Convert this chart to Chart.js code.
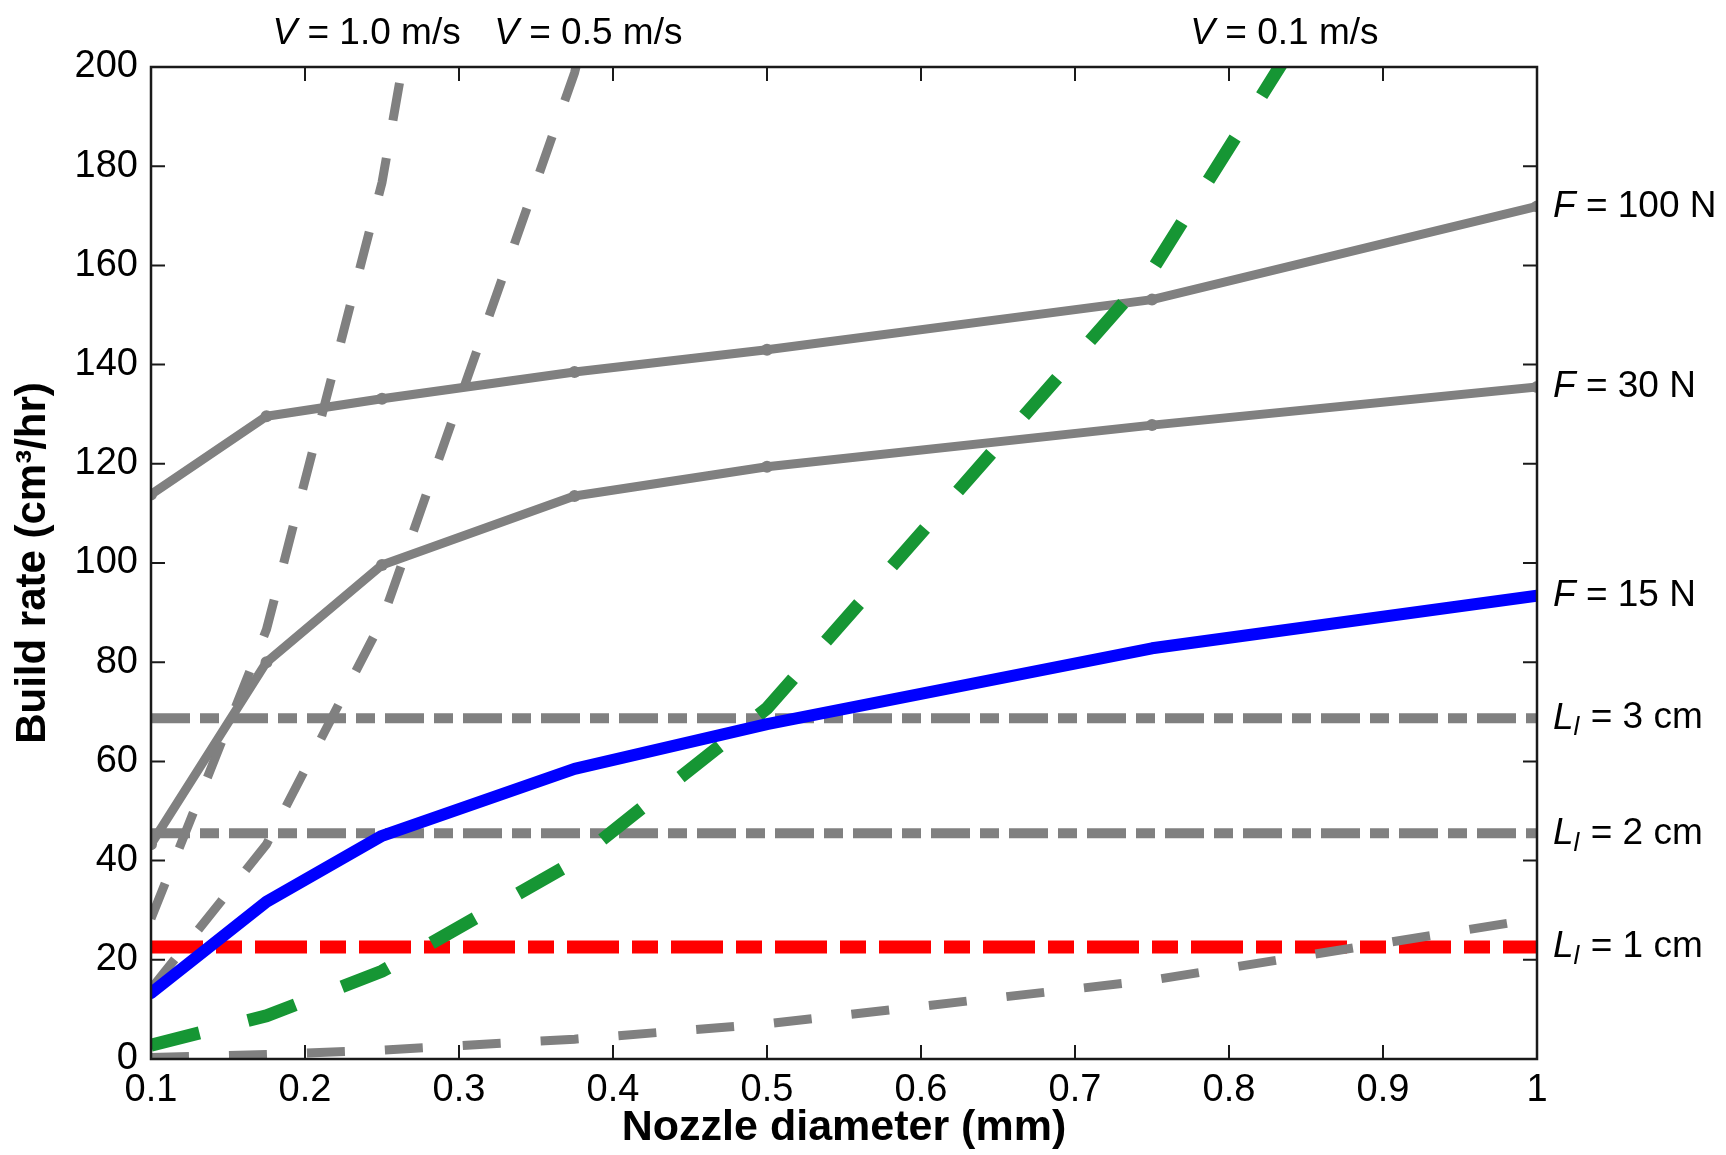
<!DOCTYPE html>
<html>
<head>
<meta charset="utf-8">
<script src="https://cdn.jsdelivr.net/npm/chart.js@4.4.1/dist/chart.umd.min.js"></script>
<style>
  html, body { margin: 0; padding: 0; background: #fff; }
  #wrap { width: 1726px; height: 1155px; position: relative; }
</style>
</head>
<body>
<div id="wrap"><canvas id="rateChart"></canvas></div>
<script>
// nozzle diameters (mm) where the curves were evaluated
const diameters = [0.1, 0.175, 0.25, 0.375, 0.5, 0.75, 1.0];

// build rate (cm3/hr) limited by extrusion force
const force100 = [113.8, 129.6, 133.1, 138.5, 143.0, 153.1, 171.9];
const force30 = [43.3, 80.0, 99.6, 113.5, 119.4, 127.8, 135.5];
const force15 = [13.3, 31.7, 45.0, 58.5, 67.5, 82.8, 93.4];

// build rate limited by print speed (values above 200 run off the plot)
const speed10 = [28.3, 86.6, 176.7, 397.6, null, null, null];
const speed05 = [14.1, 43.3, 88.4, 198.8, 353.4, null, null];
const speed01 = [2.8, 8.7, 17.7, 39.8, 70.7, 159.0, 282.7];
const speed001 = [0.3, 0.9, 1.8, 4.0, 7.1, 15.9, 28.3];

// build rate limited by layer length
const lengthRate3 = 68.7;
const lengthRate2 = 45.5;
const lengthRate1 = 22.6;

const xTicks = [0.1, 0.2, 0.3, 0.4, 0.5, 0.6, 0.7, 0.8, 0.9, 1];
const yTicks = [0, 20, 40, 60, 80, 100, 120, 140, 160, 180, 200];

const GRAY = 'rgb(128,128,128)';
const GREEN = 'rgb(22,150,52)';
const FONT = "'Liberation Sans', Arial, Helvetica, sans-serif";

function pts(values) {
  return diameters.map((d, i) => ({ x: d, y: values[i] })).filter(p => p.y !== null);
}
function flat(v) {
  return [{ x: xTicks[0], y: v }, { x: xTicks[xTicks.length - 1], y: v }];
}

function solid(data, color, width, radius) {
  return {
    data: pts(data), borderColor: color, backgroundColor: color,
    borderWidth: width, pointRadius: radius, pointBorderWidth: 0,
    borderCapStyle: 'round', borderJoinStyle: 'round', tension: 0
  };
}
function dashed(data, color, width, dash, clip) {
  return {
    data: data, borderColor: color, borderWidth: width, borderDash: dash,
    borderCapStyle: 'butt', pointRadius: 0, tension: 0, clip: clip
  };
}

// right hand and top labels; F and L labels sit at their curve's height
const rightLabels = [
  { y: force100[force100.length - 1], parts: [['F', 'i'], [' = 100 N']] },
  { y: force30[force30.length - 1], parts: [['F', 'i'], [' = 30 N']] },
  { y: force15[force15.length - 1], parts: [['F', 'i'], [' = 15 N']] },
  { y: lengthRate3, parts: [['L', 'i'], ['l', 'sub'], [' = 3 cm']] },
  { y: lengthRate2, parts: [['L', 'i'], ['l', 'sub'], [' = 2 cm']] },
  { y: lengthRate1, parts: [['L', 'i'], ['l', 'sub'], [' = 1 cm']] }
];
const topLabels = [
  { x: 0.24, parts: [['V', 'i'], [' = 1.0 m/s']] },
  { x: 0.384, parts: [['V', 'i'], [' = 0.5 m/s']] },
  { x: 0.836, parts: [['V', 'i'], [' = 0.1 m/s']] }
];

function partFont(kind) {
  if (kind === 'i') return 'italic 37px ' + FONT;
  if (kind === 'sub') return 'italic 26px ' + FONT;
  return '37px ' + FONT;
}
function richWidth(ctx, parts) {
  let w = 0;
  parts.forEach(p => { ctx.font = partFont(p[1]); w += ctx.measureText(p[0]).width; });
  return w;
}
function drawRich(ctx, parts, x, y) {
  parts.forEach(p => {
    ctx.font = partFont(p[1]);
    ctx.fillText(p[0], x, p[1] === 'sub' ? y + 10 : y);
    x += ctx.measureText(p[0]).width + (p[1] === 'sub' ? 1 : 0);
  });
}

const frame = {
  id: 'frame',
  afterDatasetsDraw(chart) {
    const { ctx, chartArea: a, scales: { x, y } } = chart;
    ctx.save();
    ctx.strokeStyle = '#1a1a1a';
    ctx.lineWidth = 2.5;
    ctx.strokeRect(a.left, a.top, a.right - a.left, a.bottom - a.top);
    ctx.lineWidth = 2;
    ctx.beginPath();
    xTicks.forEach(v => {
      const px = x.getPixelForValue(v);
      ctx.moveTo(px, a.bottom); ctx.lineTo(px, a.bottom - 14);
      ctx.moveTo(px, a.top); ctx.lineTo(px, a.top + 14);
    });
    yTicks.forEach(v => {
      const py = y.getPixelForValue(v);
      ctx.moveTo(a.left, py); ctx.lineTo(a.left + 14, py);
      ctx.moveTo(a.right, py); ctx.lineTo(a.right - 14, py);
    });
    ctx.stroke();

    ctx.fillStyle = '#000';
    ctx.textBaseline = 'middle';
    ctx.textAlign = 'left';
    rightLabels.forEach(l => drawRich(ctx, l.parts, a.right + 16, y.getPixelForValue(l.y)));
    topLabels.forEach(l => {
      const w = richWidth(ctx, l.parts);
      drawRich(ctx, l.parts, x.getPixelForValue(l.x) - w / 2, a.top - 33);
    });
    ctx.restore();
  }
};

const ctx = document.getElementById('rateChart').getContext('2d');
Chart.defaults.font.family = FONT;
Chart.defaults.color = '#000';

new Chart(ctx, {
  type: 'line',
  data: {
    datasets: [
      solid(force15, 'rgb(0,0,255)', 12, 0),
      dashed(pts(speed01), GREEN, 13, [50, 50], 0),
      solid(force100, GRAY, 9, 6),
      solid(force30, GRAY, 9, 6),
      dashed(pts(speed10), GRAY, 9, [38, 38], 0),
      dashed(pts(speed05), GRAY, 9, [38, 38], 0),
      dashed(pts(speed001), GRAY, 9, [38, 40], 0),
      dashed(flat(lengthRate3), GRAY, 10, [39, 10, 19, 10], 0),
      dashed(flat(lengthRate2), GRAY, 10, [39, 10, 19, 10], 0),
      dashed(flat(lengthRate1), 'rgb(255,0,0)', 13, [52, 13, 26, 13], 0)
    ]
  },
  options: {
    responsive: true,
    maintainAspectRatio: false,
    animation: false,
    layout: { padding: { left: 0, top: 67, right: 189, bottom: 0 } },
    plugins: { legend: { display: false }, tooltip: { enabled: false } },
    scales: {
      x: {
        type: 'linear', min: 0.1, max: 1,
        afterBuildTicks: s => { s.ticks = xTicks.map(v => ({ value: v })); },
        afterFit: s => { s.height = 96; },
        grid: { display: false, drawTicks: false },
        border: { display: false },
        ticks: {
          autoSkip: false, maxRotation: 0, padding: 9,
          font: { size: 38 },
          callback: v => (v === 1 ? '1' : v.toFixed(1))
        },
        title: {
          display: true, text: 'Nozzle diameter (mm)',
          font: { size: 43, weight: 'bold' }, padding: { top: 0, bottom: 1 }
        }
      },
      y: {
        min: 0, max: 200,
        afterBuildTicks: s => { s.ticks = yTicks.map(v => ({ value: v })); },
        afterFit: s => { s.width = 151; },
        grid: { display: false, drawTicks: false },
        border: { display: false },
        ticks: { padding: 13, font: { size: 38 } },
        title: {
          display: true, text: 'Build rate (cm\u00b3/hr)',
          font: { size: 42, weight: 'bold' }, padding: { top: 8, bottom: 0 }
        }
      }
    }
  },
  plugins: [frame]
});
</script>
</body>
</html>
